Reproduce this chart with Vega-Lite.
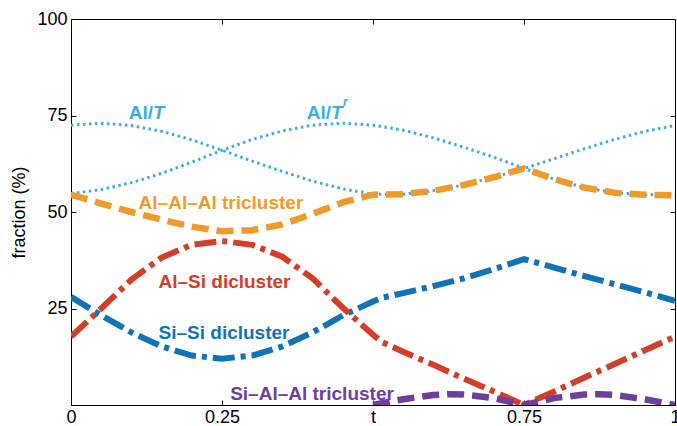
{
  "$schema": "https://vega.github.io/schema/vega-lite/v6.json",
  "width": 604,
  "height": 386,
  "autosize": "none",
  "padding": {"left": 71, "top": 19, "right": 2, "bottom": 21},
  "background": "white",
  "config": {
    "view": {"stroke": "black", "strokeWidth": 1},
    "axis": {
      "grid": false,
      "domainColor": "black",
      "tickColor": "black",
      "labelColor": "black",
      "labelFont": "Liberation Sans",
      "labelFontSize": 18,
      "titleFont": "Liberation Sans",
      "titleFontSize": 18,
      "titleFontWeight": "normal",
      "titleColor": "black",
      "tickSize": -5,
      "labelPadding": 9
    },
    "text": {"font": "Liberation Sans"}
  },
  "datasets": {
    "lines": [
      {"s": "AlT", "x": 0, "v": 72.5}, {"s": "AlT", "x": 0.05, "v": 73}, {"s": "AlT", "x": 0.1, "v": 72.4}, {"s": "AlT", "x": 0.15, "v": 70.9}, {"s": "AlT", "x": 0.2, "v": 68.7}, {"s": "AlT", "x": 0.25, "v": 66}, {"s": "AlT", "x": 0.3, "v": 63.2}, {"s": "AlT", "x": 0.35, "v": 60.5}, {"s": "AlT", "x": 0.4, "v": 58}, {"s": "AlT", "x": 0.45, "v": 56}, {"s": "AlT", "x": 0.5, "v": 54.6}, {"s": "AlT", "x": 0.55, "v": 54.6}, {"s": "AlT", "x": 0.6, "v": 55.5}, {"s": "AlT", "x": 0.65, "v": 57}, {"s": "AlT", "x": 0.7, "v": 59}, {"s": "AlT", "x": 0.75, "v": 61.3}, {"s": "AlT", "x": 0.8, "v": 63.8}, {"s": "AlT", "x": 0.85, "v": 66.4}, {"s": "AlT", "x": 0.9, "v": 68.8}, {"s": "AlT", "x": 0.95, "v": 70.9}, {"s": "AlT", "x": 1, "v": 72.4},
      {"s": "AlTr", "x": 0, "v": 54.8}, {"s": "AlTr", "x": 0.05, "v": 55.8}, {"s": "AlTr", "x": 0.1, "v": 57.6}, {"s": "AlTr", "x": 0.15, "v": 60}, {"s": "AlTr", "x": 0.2, "v": 62.9}, {"s": "AlTr", "x": 0.25, "v": 66}, {"s": "AlTr", "x": 0.3, "v": 68.8}, {"s": "AlTr", "x": 0.35, "v": 71}, {"s": "AlTr", "x": 0.4, "v": 72.5}, {"s": "AlTr", "x": 0.45, "v": 73}, {"s": "AlTr", "x": 0.5, "v": 72.5}, {"s": "AlTr", "x": 0.55, "v": 71.2}, {"s": "AlTr", "x": 0.6, "v": 69.2}, {"s": "AlTr", "x": 0.65, "v": 66.8}, {"s": "AlTr", "x": 0.7, "v": 64.2}, {"s": "AlTr", "x": 0.75, "v": 61.3}, {"s": "AlTr", "x": 0.8, "v": 58.5}, {"s": "AlTr", "x": 0.85, "v": 56.3}, {"s": "AlTr", "x": 0.9, "v": 55}, {"s": "AlTr", "x": 0.95, "v": 54.5}, {"s": "AlTr", "x": 1, "v": 54.3},
      {"s": "AlAlAl", "x": 0, "v": 54.5}, {"s": "AlAlAl", "x": 0.05, "v": 52.2}, {"s": "AlAlAl", "x": 0.1, "v": 50}, {"s": "AlAlAl", "x": 0.15, "v": 48}, {"s": "AlAlAl", "x": 0.2, "v": 46.2}, {"s": "AlAlAl", "x": 0.25, "v": 45}, {"s": "AlAlAl", "x": 0.3, "v": 45.3}, {"s": "AlAlAl", "x": 0.35, "v": 46.8}, {"s": "AlAlAl", "x": 0.4, "v": 49.5}, {"s": "AlAlAl", "x": 0.45, "v": 52.5}, {"s": "AlAlAl", "x": 0.5, "v": 54.5}, {"s": "AlAlAl", "x": 0.55, "v": 54.6}, {"s": "AlAlAl", "x": 0.6, "v": 55.5}, {"s": "AlAlAl", "x": 0.65, "v": 57}, {"s": "AlAlAl", "x": 0.7, "v": 59}, {"s": "AlAlAl", "x": 0.75, "v": 61.3}, {"s": "AlAlAl", "x": 0.8, "v": 58.5}, {"s": "AlAlAl", "x": 0.85, "v": 56.3}, {"s": "AlAlAl", "x": 0.9, "v": 55}, {"s": "AlAlAl", "x": 0.95, "v": 54.5}, {"s": "AlAlAl", "x": 1, "v": 54.3},
      {"s": "SiSi", "x": 0, "v": 28}, {"s": "SiSi", "x": 0.05, "v": 23.2}, {"s": "SiSi", "x": 0.1, "v": 18.8}, {"s": "SiSi", "x": 0.15, "v": 15.2}, {"s": "SiSi", "x": 0.2, "v": 12.8}, {"s": "SiSi", "x": 0.25, "v": 12}, {"s": "SiSi", "x": 0.3, "v": 12.8}, {"s": "SiSi", "x": 0.35, "v": 15.2}, {"s": "SiSi", "x": 0.4, "v": 18.8}, {"s": "SiSi", "x": 0.45, "v": 23.2}, {"s": "SiSi", "x": 0.5, "v": 26.8}, {"s": "SiSi", "x": 0.515, "v": 27.8}, {"s": "SiSi", "x": 0.55, "v": 29}, {"s": "SiSi", "x": 0.6, "v": 30.8}, {"s": "SiSi", "x": 0.65, "v": 32.8}, {"s": "SiSi", "x": 0.7, "v": 35.2}, {"s": "SiSi", "x": 0.75, "v": 37.8}, {"s": "SiSi", "x": 0.8, "v": 35.6}, {"s": "SiSi", "x": 0.85, "v": 33.4}, {"s": "SiSi", "x": 0.9, "v": 31.3}, {"s": "SiSi", "x": 0.95, "v": 29.2}, {"s": "SiSi", "x": 1, "v": 27},
      {"s": "AlSi", "x": 0, "v": 17.7}, {"s": "AlSi", "x": 0.05, "v": 25}, {"s": "AlSi", "x": 0.1, "v": 32.5}, {"s": "AlSi", "x": 0.15, "v": 38.2}, {"s": "AlSi", "x": 0.2, "v": 41.5}, {"s": "AlSi", "x": 0.25, "v": 42.5}, {"s": "AlSi", "x": 0.3, "v": 41.5}, {"s": "AlSi", "x": 0.35, "v": 38.4}, {"s": "AlSi", "x": 0.4, "v": 32.8}, {"s": "AlSi", "x": 0.45, "v": 25.2}, {"s": "AlSi", "x": 0.5, "v": 18.2}, {"s": "AlSi", "x": 0.515, "v": 16.3}, {"s": "AlSi", "x": 0.55, "v": 13.8}, {"s": "AlSi", "x": 0.6, "v": 10.4}, {"s": "AlSi", "x": 0.65, "v": 6.9}, {"s": "AlSi", "x": 0.7, "v": 3.5}, {"s": "AlSi", "x": 0.75, "v": 0}, {"s": "AlSi", "x": 0.8, "v": 3.5}, {"s": "AlSi", "x": 0.85, "v": 7.1}, {"s": "AlSi", "x": 0.9, "v": 10.6}, {"s": "AlSi", "x": 0.95, "v": 14.2}, {"s": "AlSi", "x": 1, "v": 17.7},
      {"s": "SiAlAl", "x": 0.5, "v": 0}, {"s": "SiAlAl", "x": 0.55, "v": 1.5}, {"s": "SiAlAl", "x": 0.6, "v": 2.6}, {"s": "SiAlAl", "x": 0.625, "v": 2.8}, {"s": "SiAlAl", "x": 0.65, "v": 2.7}, {"s": "SiAlAl", "x": 0.7, "v": 1.8}, {"s": "SiAlAl", "x": 0.75, "v": 0}, {"s": "SiAlAl", "x": 0.8, "v": 1.8}, {"s": "SiAlAl", "x": 0.85, "v": 2.7}, {"s": "SiAlAl", "x": 0.875, "v": 2.8}, {"s": "SiAlAl", "x": 0.9, "v": 2.6}, {"s": "SiAlAl", "x": 0.95, "v": 1.5}, {"s": "SiAlAl", "x": 1, "v": 0}
    ],
    "labels": [
      {"s": "AlT", "kind": "pre", "text": "Al/", "x": 0.1358, "v": 75.6},
      {"s": "AlT", "kind": "ital", "text": "T", "x": 0.1358, "v": 75.6},
      {"s": "AlT", "kind": "pre", "text": "Al/", "x": 0.4305, "v": 75.6},
      {"s": "AlT", "kind": "ital", "text": "T", "x": 0.4305, "v": 75.6},
      {"s": "AlT", "kind": "sup", "text": "r", "x": 0.4505, "v": 78.6},
      {"s": "AlAlAl", "kind": "center", "text": "Al–Al–Al tricluster", "x": 0.2483, "v": 52.3},
      {"s": "AlSi", "kind": "center", "text": "Al–Si dicluster", "x": 0.2541, "v": 31.9},
      {"s": "SiSi", "kind": "center", "text": "Si–Si dicluster", "x": 0.2533, "v": 18.7},
      {"s": "SiAlAl", "kind": "center", "text": "Si–Al–Al tricluster", "x": 0.399, "v": 2.85}
    ]
  },
  "resolve": {"axis": {"x": "independent", "y": "independent"}},
  "layer": [
    {
      "data": {"name": "lines"},
      "transform": [{"filter": "datum.s === 'AlT'"}],
      "mark": {"type": "line", "clip": true, "color": "#3AADE3", "strokeWidth": 3, "strokeDash": [2.5, 3.5]},
      "encoding": {
        "x": {"field": "x", "type": "quantitative", "scale": {"domain": [0, 1], "nice": false}, "axis": {"orient": "top", "labels": false, "domain": false, "title": null, "values": [0.25, 0.5, 0.75]}},
        "y": {"field": "v", "type": "quantitative", "scale": {"domain": [0, 100], "nice": false}, "axis": {"orient": "right", "labels": false, "domain": false, "title": null, "values": [25, 50, 75]}}
      }
    },
    {
      "data": {"name": "lines"},
      "transform": [{"filter": "datum.s === 'AlTr'"}],
      "mark": {"type": "line", "clip": true, "color": "#3AADE3", "strokeWidth": 3, "strokeDash": [2.5, 3.5]},
      "encoding": {
        "x": {"field": "x", "type": "quantitative", "scale": {"domain": [0, 1], "nice": false}, "axis": {"orient": "bottom", "title": null, "values": [0, 0.25, 0.5, 0.75, 1], "labelExpr": "datum.value == 0.5 ? 't' : datum.value == 0 ? '0' : datum.value == 1 ? '1' : datum.value == 0.25 ? '0.25' : '0.75'", "labelPadding": 8, "labelFlush": false}},
        "y": {"field": "v", "type": "quantitative", "scale": {"domain": [0, 100], "nice": false}, "axis": {"orient": "left", "title": "fraction (%)", "values": [25, 50, 75, 100], "titlePadding": 8}}
      }
    },
    {
      "data": {"name": "lines"},
      "transform": [{"filter": "datum.s === 'AlAlAl'"}],
      "mark": {"type": "line", "clip": true, "color": "#EF9B2C", "strokeWidth": 6.5, "strokeDash": [17, 8]},
      "encoding": {
        "x": {"field": "x", "type": "quantitative", "axis": null},
        "y": {"field": "v", "type": "quantitative", "axis": null}
      }
    },
    {
      "data": {"name": "lines"},
      "transform": [{"filter": "datum.s === 'SiSi'"}],
      "mark": {"type": "line", "clip": true, "color": "#1173B7", "strokeWidth": 6, "strokeDash": [22, 6, 5, 6]},
      "encoding": {
        "x": {"field": "x", "type": "quantitative", "axis": null},
        "y": {"field": "v", "type": "quantitative", "axis": null}
      }
    },
    {
      "data": {"name": "lines"},
      "transform": [{"filter": "datum.s === 'AlSi'"}],
      "mark": {"type": "line", "clip": true, "color": "#D43D27", "strokeWidth": 6, "strokeDash": [22, 6, 5, 6]},
      "encoding": {
        "x": {"field": "x", "type": "quantitative", "axis": null},
        "y": {"field": "v", "type": "quantitative", "axis": null}
      }
    },
    {
      "data": {"name": "lines"},
      "transform": [{"filter": "datum.s === 'SiAlAl'"}],
      "mark": {"type": "line", "clip": true, "color": "#6F3D9E", "strokeWidth": 6.5, "strokeDash": [17, 8]},
      "encoding": {
        "x": {"field": "x", "type": "quantitative", "axis": null},
        "y": {"field": "v", "type": "quantitative", "axis": null}
      }
    },
    {
      "data": {"name": "labels"},
      "transform": [{"filter": "datum.kind === 'pre'"}],
      "mark": {"type": "text", "align": "right", "baseline": "middle", "fontSize": 19, "fontWeight": "bold"},
      "encoding": {
        "x": {"field": "x", "type": "quantitative", "axis": null},
        "y": {"field": "v", "type": "quantitative", "axis": null},
        "text": {"field": "text"},
        "color": {"field": "s", "type": "nominal", "legend": null, "scale": {"domain": ["AlT", "AlAlAl", "AlSi", "SiSi", "SiAlAl"], "range": ["#3AADE3", "#EF9B2C", "#D43D27", "#1173B7", "#6F3D9E"]}}
      }
    },
    {
      "data": {"name": "labels"},
      "transform": [{"filter": "datum.kind === 'ital'"}],
      "mark": {"type": "text", "align": "left", "baseline": "middle", "fontSize": 19, "fontWeight": "bold", "fontStyle": "italic"},
      "encoding": {
        "x": {"field": "x", "type": "quantitative", "axis": null},
        "y": {"field": "v", "type": "quantitative", "axis": null},
        "text": {"field": "text"},
        "color": {"field": "s", "type": "nominal", "legend": null, "scale": {"domain": ["AlT", "AlAlAl", "AlSi", "SiSi", "SiAlAl"], "range": ["#3AADE3", "#EF9B2C", "#D43D27", "#1173B7", "#6F3D9E"]}}
      }
    },
    {
      "data": {"name": "labels"},
      "transform": [{"filter": "datum.kind === 'sup'"}],
      "mark": {"type": "text", "align": "left", "baseline": "middle", "fontSize": 12, "fontWeight": "bold", "fontStyle": "italic"},
      "encoding": {
        "x": {"field": "x", "type": "quantitative", "axis": null},
        "y": {"field": "v", "type": "quantitative", "axis": null},
        "text": {"field": "text"},
        "color": {"field": "s", "type": "nominal", "legend": null, "scale": {"domain": ["AlT", "AlAlAl", "AlSi", "SiSi", "SiAlAl"], "range": ["#3AADE3", "#EF9B2C", "#D43D27", "#1173B7", "#6F3D9E"]}}
      }
    },
    {
      "data": {"name": "labels"},
      "transform": [{"filter": "datum.kind === 'center'"}],
      "mark": {"type": "text", "align": "center", "baseline": "middle", "fontSize": 19, "fontWeight": "bold"},
      "encoding": {
        "x": {"field": "x", "type": "quantitative", "axis": null},
        "y": {"field": "v", "type": "quantitative", "axis": null},
        "text": {"field": "text"},
        "color": {"field": "s", "type": "nominal", "legend": null, "scale": {"domain": ["AlT", "AlAlAl", "AlSi", "SiSi", "SiAlAl"], "range": ["#3AADE3", "#EF9B2C", "#D43D27", "#1173B7", "#6F3D9E"]}}
      }
    }
  ]
}
